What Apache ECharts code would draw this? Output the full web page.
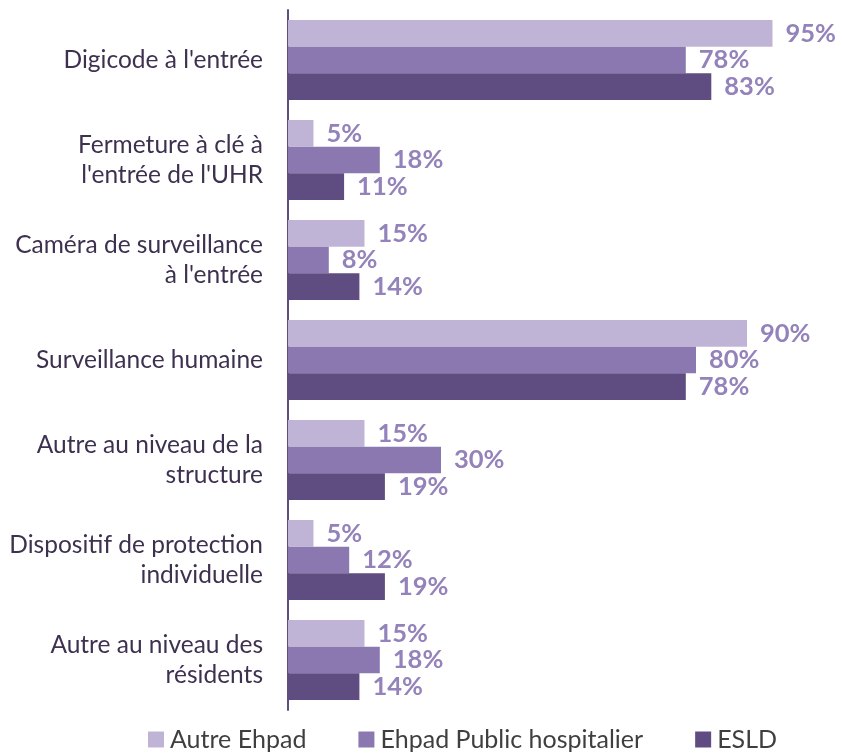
<!DOCTYPE html>
<html>
<head>
<meta charset="utf-8">
<script src="https://cdn.jsdelivr.net/npm/echarts@6/dist/echarts.min.js"></script>
<style>
	html, body { margin: 0; padding: 0; background: #fff; }
	#chart { width: 842px; height: 753px; }
</style>
</head>
<body>
<div id="chart"></div>
<script>
const categories = [
	"Digicode à l'entrée",
	"Fermeture à clé à\nl'entrée de l'UHR",
	"Caméra de surveillance\nà l'entrée",
	"Surveillance humaine",
	"Autre au niveau de la\nstructure",
	"Dispositif de protection\nindividuelle",
	"Autre au niveau des\nrésidents"
];
const seriesNames = ["Autre Ehpad", "Ehpad Public hospitalier", "ESLD"];
const autreEhpad = [95, 5, 15, 90, 15, 5, 15];
const ehpadPublic = [78, 18, 8, 80, 30, 12, 18];
const esld = [83, 11, 14, 78, 19, 19, 14];

const colors = ["#C0B4D6", "#8C78B0", "#5F4C80"];
const font = "Lato";

const makeSeries = (name, data, color) => {
	return {
		name: name,
		type: 'bar',
		data: data,
		barGap: 0,
		barCategoryGap: '20%',
		itemStyle: { color: color },
		label: {
			show: true,
			position: 'right',
			distance: 13,
			formatter: '{c}%',
			color: '#9482BA',
			fontFamily: font,
			fontWeight: 'bold',
			fontSize: 25.5
		}
	};
};

const getOption = () => {
	return {
		animation: false,
		textStyle: { fontFamily: font },
		grid: { left: 288, right: 44, top: 10, height: 700 },
		legend: {
			left: 143,
			top: 722,
			itemGap: 52,
			itemWidth: 16,
			itemHeight: 16,
			icon: 'rect',
			textStyle: { fontFamily: font, fontSize: 25, color: '#3F3F3F', padding: [0, 0, 0, 1] },
			data: seriesNames
		},
		xAxis: {
			type: 'value',
			min: 0,
			max: 100,
			show: false
		},
		yAxis: {
			type: 'category',
			data: categories,
			inverse: true,
			axisLine: { lineStyle: { color: '#5F4C80', width: 2 } },
			axisTick: { show: false },
			axisLabel: {
				margin: 25,
				fontFamily: font,
				fontSize: 24.5,
				lineHeight: 30,
				color: '#3E3150',
				align: 'right'
			}
		},
		series: [
			makeSeries(seriesNames[0], autreEhpad, colors[0]),
			makeSeries(seriesNames[1], ehpadPublic, colors[1]),
			makeSeries(seriesNames[2], esld, colors[2])
		]
	};
};

const chart = echarts.init(document.getElementById("chart"));
chart.setOption(getOption());
</script>
</body>
</html>
